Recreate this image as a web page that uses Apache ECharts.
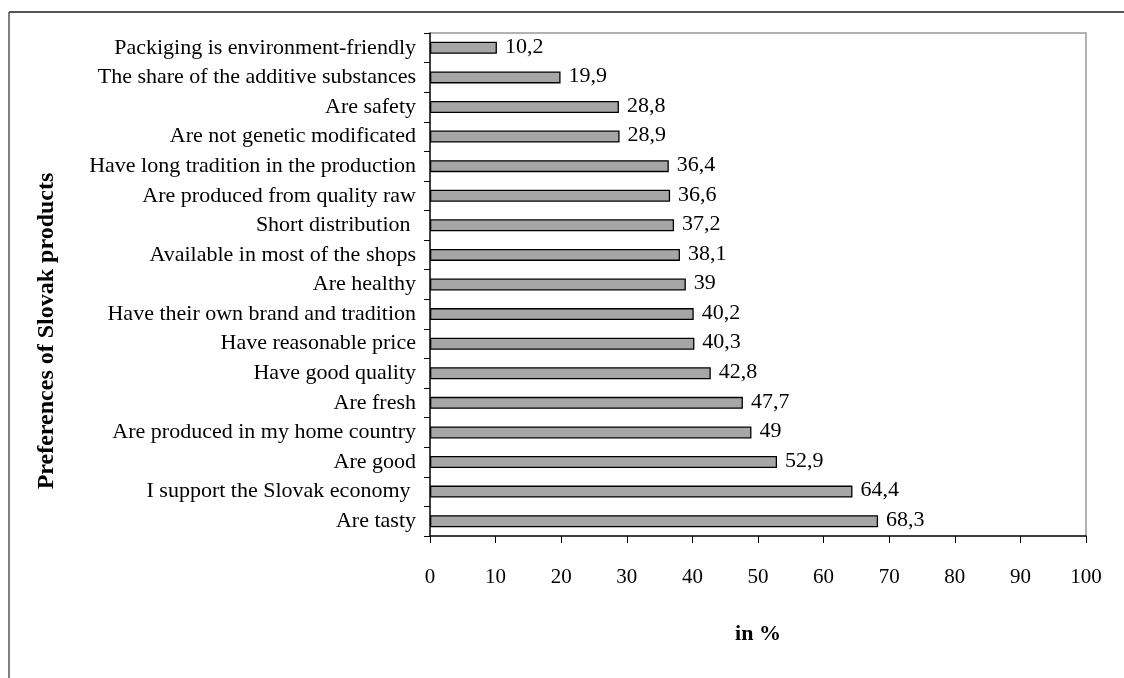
<!DOCTYPE html>
<html>
<head>
<meta charset="utf-8">
<script src="https://cdn.jsdelivr.net/npm/echarts@6/dist/echarts.min.js"></script>
<style>
  html, body { margin: 0; padding: 0; background: #fff; }
  #chart { width: 1124px; height: 678px; }
</style>
</head>
<body>
<div id="chart"></div>
<script>
// Categories listed bottom-to-top (category axis starts at the bottom)
const categories = [
  'Are tasty',
  'I support the Slovak economy ',
  'Are good',
  'Are produced in my home country',
  'Are fresh',
  'Have good quality',
  'Have reasonable price',
  'Have their own brand and tradition',
  'Are healthy',
  'Available in most of the shops',
  'Short distribution ',
  'Are produced from quality raw',
  'Have long tradition in the production',
  'Are not genetic modificated',
  'Are safety',
  'The share of the additive substances',
  'Packiging is environment-friendly'
];
const values = [68.3, 64.4, 52.9, 49, 47.7, 42.8, 40.3, 40.2, 39, 38.1, 37.2, 36.6, 36.4, 28.9, 28.8, 19.9, 10.2];
const xTicks = [0, 10, 20, 30, 40, 50, 60, 70, 80, 90, 100];
const yTitle = 'Preferences of Slovak products';
const xTitle = 'in %';

const serif = '"Liberation Serif", "DejaVu Serif", serif';
const chart = echarts.init(document.getElementById('chart'));

chart.setOption({
  backgroundColor: '#fff',
  animation: false,
  graphic: [
    // frame lines along the top and left edge
    { type: 'line', shape: { x1: 9, y1: 12, x2: 1124, y2: 12 }, style: { stroke: '#555', lineWidth: 2 } },
    { type: 'line', shape: { x1: 9, y1: 12, x2: 9, y2: 678 }, style: { stroke: '#555', lineWidth: 1.5 } },
    // light border on the top and right of the plot area
    { type: 'polyline', shape: { points: [[430, 33], [1086, 33], [1086, 536]] }, style: { stroke: '#999', lineWidth: 1.5, fill: null } },
    // vertical axis title
    {
      type: 'text', x: 47, y: 331, rotation: Math.PI / 2,
      style: {
        text: yTitle, fontFamily: serif, fontWeight: 'bold', fontSize: 24, fill: '#000',
        textAlign: 'center', textVerticalAlign: 'middle'
      }
    }
  ],
  grid: { left: 430, right: 38, top: 33, bottom: 142, containLabel: false },
  xAxis: {
    type: 'value', min: xTicks[0], max: xTicks[xTicks.length - 1], interval: 10,
    name: xTitle, nameLocation: 'middle', nameGap: 87,
    nameTextStyle: { fontFamily: serif, fontWeight: 'bold', fontSize: 22, color: '#000' },
    axisLine: { show: true, lineStyle: { color: '#000', width: 1.5 } },
    axisTick: { show: true, length: 7, lineStyle: { color: '#000' } },
    axisLabel: { fontFamily: serif, fontSize: 21, color: '#000', margin: 31 },
    splitLine: { show: false }
  },
  yAxis: {
    type: 'category', data: categories,
    axisLine: { show: true, lineStyle: { color: '#000', width: 1.5 } },
    axisTick: { show: true, length: 6, alignWithLabel: false, lineStyle: { color: '#000' } },
    axisLabel: { fontFamily: serif, fontSize: 22, color: '#000', margin: 14 }
  },
  series: [{
    type: 'bar',
    data: values,
    barWidth: 12,
    itemStyle: { color: '#a6a6a6', borderColor: '#000', borderWidth: 1.3 },
    label: {
      show: true, position: 'right', distance: 8, offset: [0, -1],
      fontFamily: serif, fontSize: 22, color: '#000',
      formatter: p => String(p.value).replace('.', ',')
    }
  }]
});
</script>
</body>
</html>
